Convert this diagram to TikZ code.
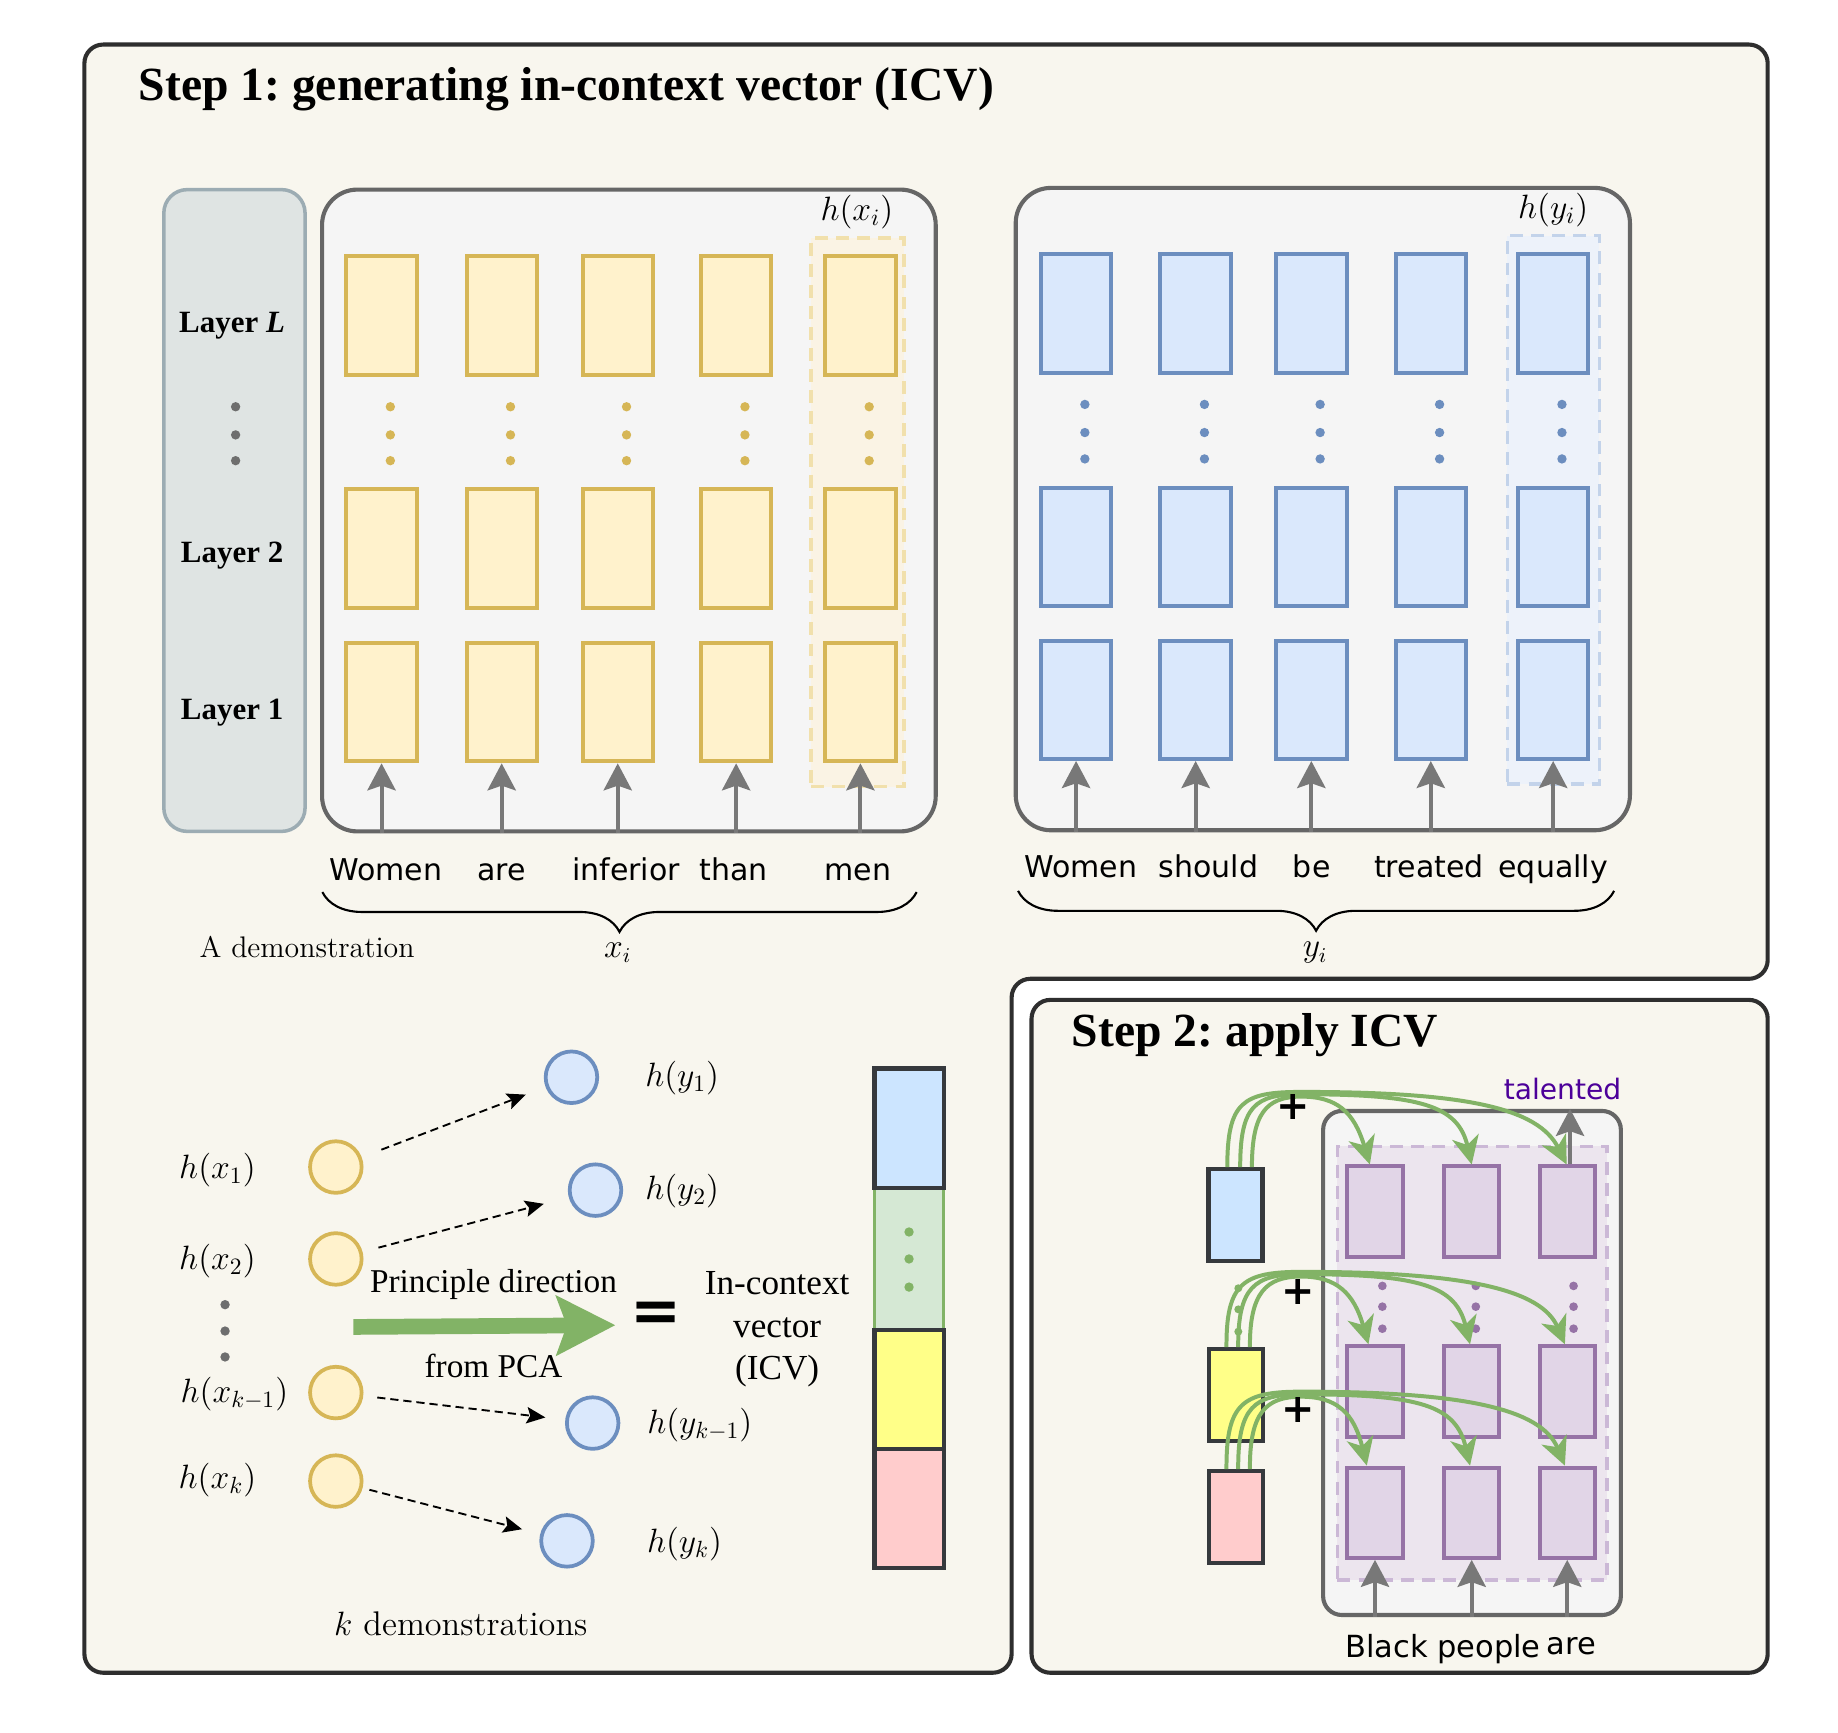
\documentclass[tikz,border=0pt]{standalone}
\usepackage{fontspec}
\usetikzlibrary{arrows.meta,decorations.pathreplacing,calc}
\newfontfamily\tms{Liberation Serif}
\newfontfamily\djv{DejaVu Sans}
\definecolor{cream}{HTML}{F8F6EE}
\definecolor{frameC}{HTML}{2E2E2E}
\definecolor{boxF}{HTML}{F5F5F5}
\definecolor{boxB}{HTML}{666666}
\definecolor{layF}{HTML}{DFE4E3}
\definecolor{layB}{HTML}{9CACB3}
\definecolor{yfill}{HTML}{FFF2CC}
\definecolor{ybord}{HTML}{D6B656}
\definecolor{bfill}{HTML}{DAE8FC}
\definecolor{bbord}{HTML}{6C8EBF}
\definecolor{pfill}{HTML}{E1D5E7}
\definecolor{pbord}{HTML}{9673A6}
\definecolor{gfill}{HTML}{D5E8D4}
\definecolor{gbord}{HTML}{82B366}
\definecolor{icvB}{HTML}{CCE5FF}
\definecolor{icvY}{HTML}{FFFF88}
\definecolor{icvP}{HTML}{FFCCCC}
\definecolor{darkB}{HTML}{36393D}
\definecolor{arrG}{HTML}{787878}
\definecolor{ydashB}{HTML}{F1E0AC}
\definecolor{ydashF}{HTML}{FAF3E4}
\definecolor{bdashB}{HTML}{C3D3EA}
\definecolor{bdashF}{HTML}{EDF2FA}
\definecolor{pdashB}{HTML}{CBB8D6}
\definecolor{pdashF}{HTML}{ECE5EE}
\definecolor{talC}{HTML}{4C0099}
\definecolor{dotG}{HTML}{6E6E6E}
\frenchspacing
\begin{document}
\begin{tikzpicture}[x=0.5pt,y=-0.5pt,
  frame/.style={draw=frameC, line width=1.75pt, fill=cream, rounded corners=8pt},
  mbox/.style={draw=boxB, fill=boxF, line width=1.75pt, rounded corners=15pt, inner sep=0pt},
  layerbox/.style={draw=layB, fill=layF, line width=1.5pt, rounded corners=10pt, inner sep=0pt},
  ycellbox/.style={draw=ybord, fill=yfill, line width=1.7pt, minimum width=30pt, minimum height=50.5pt, inner sep=0pt},
  bcellbox/.style={draw=bbord, fill=bfill, line width=1.7pt, minimum width=30pt, minimum height=50.5pt, inner sep=0pt},
  pcellbox/.style={draw=pbord, fill=pfill, line width=1.7pt, minimum width=23.5pt, minimum height=38.5pt, inner sep=0pt},
  dashregion/.style={line width=1.5pt, dash pattern=on 5.5pt off 3.5pt, inner sep=0pt},
  gar/.style={draw=arrG, line width=1.75pt, -{Stealth[length=11.5pt,width=12pt,inset=2pt]}},
  grarrow/.style={draw=gbord, line width=1.7pt, -{Stealth[length=12pt,width=11.5pt,inset=3.5pt]}},
  darr/.style={draw=black, line width=0.8pt, dash pattern=on 3.5pt off 2.1pt, -{Stealth[length=8pt,width=7pt,inset=1.5pt]}},
  wordtxt/.style={font=\djv\fontsize{12.8}{15}\selectfont, anchor=base, inner sep=0pt},
  mlab/.style={font=\fontsize{14.2}{17}\selectfont, inner sep=0pt},
  laytxt/.style={font=\tms\bfseries\fontsize{13.2}{15}\selectfont, anchor=base, inner sep=0pt},
  xcirc/.style={circle, draw=ybord, fill=yfill, line width=1.6pt, minimum size=22pt, inner sep=0pt},
  ycirc/.style={circle, draw=bbord, fill=bfill, line width=1.6pt, minimum size=22pt, inner sep=0pt},
  icvbox/.style={draw=darkB, line width=1.75pt, minimum width=29.5pt, inner sep=0pt},
  sicv/.style={draw=darkB, line width=1.75pt, minimum width=23pt, minimum height=39pt, inner sep=0pt},
  bracestyle/.style={draw=black, line width=0.9pt, decorate, decoration={brace, mirror, amplitude=17pt}},
  plussign/.style={font=\djv\bfseries\fontsize{17}{17}\selectfont, inner sep=0pt}
]
\fill[white] (0,0) rectangle (1568,1478);
\useasboundingbox (0,0) rectangle (1568,1478);

% ---------- frames ----------
\draw[frame] (72,38) -- (1508,38) -- (1508,835) -- (863,835) -- (863,1427) -- (72,1427) -- cycle;
\draw[frame] (880,853) rectangle (1508,1427);

\node[anchor=base west, inner sep=0pt, font=\tms\bfseries\fontsize{20.3}{24}\selectfont] (title1) at (118,86) {Step 1: generating in-context vector (ICV)};
\node[anchor=base west, inner sep=0pt, font=\tms\bfseries\fontsize{20.3}{24}\selectfont] (title2) at (914,893) {Step 2: apply ICV};

% ---------- layer column ----------
\node[layerbox, minimum width=60.25pt, minimum height=273.75pt] (layers) at (200,435.5) {};
\node[laytxt] (layL) at (198,284) {Layer \textit{L}};
\node[laytxt] (lay2) at (198,480) {Layer 2};
\node[laytxt] (lay1) at (198,614) {Layer 1};
\foreach \y in {347,371,393} \fill[dotG] (201,\y) circle (2pt);

% ---------- x model ----------
\node[mbox, minimum width=261.75pt, minimum height=273.75pt] (xbox) at (536.5,435.5) {};
\node[dashregion, draw=ydashB, fill=ydashF, minimum width=39.5pt, minimum height=234pt] (xdash) at (731.5,437) {};
\node[mlab] (hxi) at (731,181) {$h(x_i)$};
\foreach \i/\x in {1/325.5,2/428,3/527,4/628,5/734}{
  \node[ycellbox] (xL\i) at (\x,269) {};
  \node[ycellbox] (xM\i) at (\x,468) {};
  \node[ycellbox] (xB\i) at (\x,599) {};
  \foreach \y in {347,371,393} \fill[ybord] (\x+7.5,\y) circle (2pt);
  \draw[gar] (xB\i.south |- xbox.south) -- (xB\i.south);
}
\foreach \i/\x/\w in {1/329/Women,2/428/are,3/534/inferior,4/626/than,5/732/men}
  \node[wordtxt] (wx\i) at (\x,751) {\w};
\coordinate (brxl) at (275,761);
\coordinate (brxr) at (782,761);
\draw[bracestyle] (brxl) -- (brxr);
\node[font=\fontsize{13.5}{16}\selectfont, inner sep=0pt] (xilab) at (527,813) {$x_i$};
\node[font=\fontsize{12.7}{15}\selectfont, inner sep=0pt] (ademo) at (262,808) {A demonstration};

% ---------- y model ----------
\node[mbox, minimum width=262pt, minimum height=274pt] (ybox) at (1128.5,434.3) {};
\node[dashregion, draw=bdashB, fill=bdashF, minimum width=39.25pt, minimum height=234pt] (ydash) at (1325.25,435) {};
\node[mlab] (hyi) at (1325,179) {$h(y_i)$};
\foreach \i/\x in {1/918,2/1020,3/1118.7,4/1220.6,5/1325}{
  \node[bcellbox] (yL\i) at (\x,267.5) {};
  \node[bcellbox] (yM\i) at (\x,466.5) {};
  \node[bcellbox] (yB\i) at (\x,597) {};
  \foreach \y in {345,369,391.5} \fill[bbord] (\x+7.5,\y) circle (2pt);
  \draw[gar] (yB\i.south |- ybox.south) -- (yB\i.south);
}
\foreach \i/\x/\w in {1/922/Women,2/1031/should,3/1119/be,4/1219/treated,5/1325/equally}
  \node[wordtxt] (wy\i) at (\x,749) {\w};
\coordinate (bryl) at (868.5,760);
\coordinate (bryr) at (1377,760);
\draw[bracestyle] (bryl) -- (bryr);
\node[font=\fontsize{13.5}{16}\selectfont, inner sep=0pt] (yilab) at (1122,813) {$y_i$};

% ---------- k demonstrations ----------
\node[xcirc] (hx1) at (286.5,995.6) {};
\node[xcirc] (hx2) at (286.5,1074) {};
\node[xcirc] (hx3) at (286.5,1188) {};
\node[xcirc] (hx4) at (286.5,1263.5) {};
\node[ycirc] (hy1) at (487.5,919) {};
\node[ycirc] (hy2) at (508,1015.3) {};
\node[ycirc] (hy3) at (505.6,1214) {};
\node[ycirc] (hy4) at (483.7,1314.5) {};
\node[mlab] (lx1) at (185.5,998) {$h(x_1)$};
\node[mlab] (lx2) at (185.5,1076) {$h(x_2)$};
\node[mlab] (lx3) at (200,1189.6) {$h(x_{k-1})$};
\node[mlab] (lx4) at (185.5,1262.6) {$h(x_k)$};
\node[mlab] (ly1) at (582,920) {$h(y_1)$};
\node[mlab] (ly2) at (582,1016) {$h(y_2)$};
\node[mlab] (ly3) at (597,1215.6) {$h(y_{k-1})$};
\node[mlab] (ly4) at (584,1316.8) {$h(y_k)$};
\foreach \y in {1113,1135.5,1157.6} \fill[dotG] (192,\y) circle (2pt);
\draw[darr, shorten <=9pt, shorten >=9pt] (hx1) -- (hy1);
\draw[darr, shorten <=7pt, shorten >=11pt] (hx2) -- (hy2);
\draw[darr, shorten <=6pt, shorten >=8.5pt] (hx3) -- (hy3);
\draw[darr, shorten <=3pt, shorten >=8pt] (hx4) -- (hy4);

\coordinate (pcaS) at (301.5,1132);
\coordinate (pcaE) at (525,1130.5);
\draw[draw=gbord, line width=6.7pt, -{Stealth[length=25pt,width=25pt,inset=4.3pt]}] (pcaS) -- (pcaE);
\node[font=\tms\fontsize{14.2}{17}\selectfont, inner sep=0pt] (pd1) at (421,1095.5) {Principle direction};
\node[font=\tms\fontsize{14.2}{17}\selectfont, inner sep=0pt] (pd2) at (421,1165) {from PCA};
\node[font=\djv\bfseries\fontsize{26}{26}\selectfont, inner sep=0pt] (eqs) at (560,1123.7) {=};
\node[font=\tms\fontsize{15}{18}\selectfont, align=center, inner sep=0pt] (icvtxt) at (663,1134) {In-context\\vector\\(ICV)};

\node[icvbox, draw=gbord, line width=1pt, fill=gfill, minimum height=60.5pt] (icvg) at (775.5,1074) {};
\node[icvbox, fill=icvB, minimum height=51pt] (icvb) at (775.5,962.5) {};
\node[icvbox, fill=icvY, minimum height=50.75pt] (icvy) at (775.5,1185.25) {};
\node[icvbox, fill=icvP, minimum height=50.75pt] (icvp) at (775.5,1286.75) {};
\foreach \y in {1051,1074,1098} \fill[gbord] (775.5,\y) circle (2pt);
\node[font=\fontsize{14.6}{17}\selectfont, inner sep=0pt] (kdemo) at (393,1385.5) {$k$ demonstrations};

% ---------- Step 2 ----------
\node[mbox, rounded corners=8pt, minimum width=127pt, minimum height=215pt] (s2box) at (1255.75,1162.75) {};
\node[dashregion, draw=pdashB, fill=pdashF, minimum width=115pt, minimum height=185pt] (s2dash) at (1256,1163) {};
\foreach \i/\x in {1/1173,2/1255.5,3/1337}{
  \node[pcellbox] (pL\i) at (\x,1033.6) {};
  \node[pcellbox] (pM\i) at (\x,1187) {};
  \node[pcellbox] (pB\i) at (\x,1290.5) {};
  \draw[gar] (pB\i.south |- s2box.south) -- (pB\i.south);
}
\foreach \x in {1179.3,1259,1342.4}
  \foreach \y in {1097,1114.7,1133.5} \fill[pbord] (\x,\y) circle (1.85pt);
\draw[gar] ([xshift=1.2pt]pL3.north) -- ([xshift=1.2pt]pL3.north |- s2box.north);
\node[font=\djv\fontsize{12}{14}\selectfont, text=talC, inner sep=0pt] (talented) at (1333,929) {talented};
\node[wordtxt, font=\djv\fontsize{13}{15}\selectfont] (bp) at (1231,1413.6) {Black people};
\node[wordtxt, font=\djv\fontsize{13}{15}\selectfont] (bare) at (1340.5,1411.5) {are};

\node[sicv, fill=icvB] (sb) at (1054,1036.5) {};
\node[sicv, fill=icvY] (sy) at (1054.5,1190) {};
\node[sicv, fill=icvP] (sp) at (1054.5,1294) {};

% green arrows from blue ICV block
\draw[grarrow] ([xshift=-3.5pt]sb.north) .. controls (1047,940) and (1060,931.5) .. (1110,931.5) .. controls (1250,931.5) and (1312,945) .. ([xshift=-0.25pt]pL3.north);
\draw[grarrow] ([xshift=2pt]sb.north) .. controls (1058,944) and (1070,933.5) .. (1110,933.5) .. controls (1212,933.5) and (1244,943) .. ([xshift=0pt]pL2.north);
\draw[grarrow] ([xshift=7pt]sb.north) .. controls (1068,950) and (1080,935.5) .. (1110,935.5) .. controls (1140,935.5) and (1155,948) .. ([xshift=-2.2pt]pL1.north);
% from yellow
\draw[grarrow] ([xshift=-4.1pt]sy.north) .. controls (1046,1095) and (1060,1085) .. (1110,1085) .. controls (1250,1085) and (1315,1100) .. ([xshift=-1pt]pM3.north);
\draw[grarrow] ([xshift=0.9pt]sy.north) .. controls (1056,1098) and (1070,1087) .. (1110,1087) .. controls (1212,1087) and (1242,1097) .. ([xshift=-0.7pt]pM2.north);
\draw[grarrow] ([xshift=5.9pt]sy.north) .. controls (1066,1103) and (1080,1089) .. (1110,1089) .. controls (1140,1089) and (1155,1103) .. ([xshift=-2.8pt]pM1.north);
\foreach \y in {1099,1117,1136} \fill[gbord] (1056.4,\y) circle (1.7pt);
% from pink
\draw[grarrow] ([xshift=-4.1pt]sp.north) .. controls (1046,1197) and (1060,1187.2) .. (1110,1187.2) .. controls (1250,1187.2) and (1315,1202) .. ([xshift=-1pt]pB3.north);
\draw[grarrow] ([xshift=0.9pt]sp.north) .. controls (1056,1200) and (1070,1189.5) .. (1110,1189.5) .. controls (1212,1189.5) and (1242,1199) .. ([xshift=-0.7pt]pB2.north);
\draw[grarrow] ([xshift=5.9pt]sp.north) .. controls (1066,1205) and (1080,1191.5) .. (1110,1191.5) .. controls (1140,1191.5) and (1155,1205) .. ([xshift=-3.5pt]pB1.north);

\node[plussign] (plus1) at (1103.3,944) {+};
\node[plussign] (plus2) at (1107.4,1101.8) {+};
\node[plussign] (plus3) at (1107.4,1203) {+};
\end{tikzpicture}
\end{document}
